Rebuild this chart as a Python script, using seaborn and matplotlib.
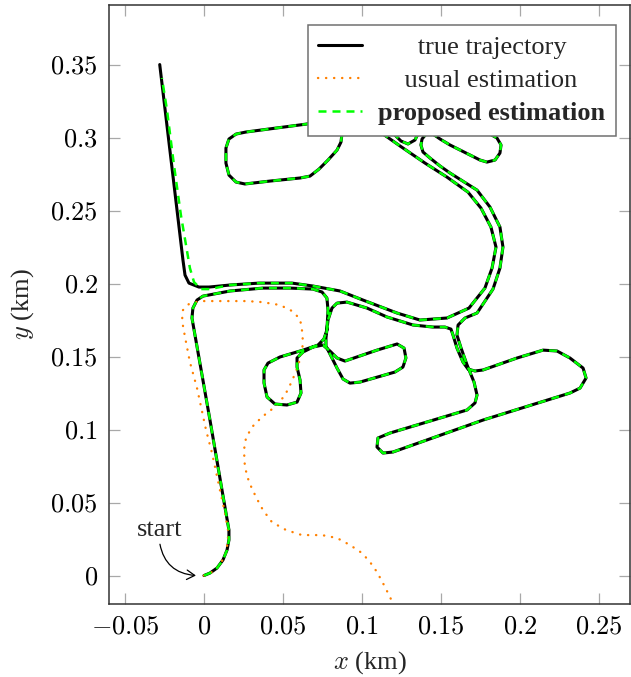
import matplotlib
matplotlib.use("Agg")
import matplotlib.pyplot as plt
import seaborn as sns
from matplotlib.lines import Line2D

# ---------------- data (km) ----------------
# true trajectory, piece by piece along the drive
start_leg_x = [0.0, 0.0038, 0.0082, 0.0120, 0.0146, 0.0158, 0.0158, 0.0114, 0.0038, -0.0076, -0.0070, -0.0044,
               -0.0006, 0.0165, 0.0373, 0.0544, 0.0690, 0.0747, 0.0778, 0.0785, 0.0778, 0.0759, 0.0722]
start_leg_y = [0.0, 0.0017, 0.0051, 0.0106, 0.0175, 0.0243, 0.0312, 0.0586, 0.1065, 0.1764, 0.1832, 0.1887,
               0.1914, 0.1949, 0.1969, 0.1969, 0.1962, 0.1942, 0.1901, 0.1818, 0.1682, 0.1620, 0.1579]
left_loop_x = [0.0627, 0.0481, 0.0405, 0.0380, 0.0380, 0.0399, 0.0449, 0.0525, 0.0589, 0.0614, 0.0608, 0.0589,
               0.0589, 0.0627, 0.0690, 0.0753]
left_loop_y = [0.1544, 0.1497, 0.1455, 0.1408, 0.1319, 0.1223, 0.1175, 0.1168, 0.1188, 0.1250, 0.1339, 0.1428,
               0.1490, 0.1531, 0.1565, 0.1579]
mid_loop_x = [0.0797, 0.0842, 0.0892, 0.1095, 0.1222, 0.1266, 0.1278, 0.1259, 0.1209, 0.0987, 0.0924, 0.0880,
              0.0842, 0.0804, 0.0772]
mid_loop_y = [0.1538, 0.1490, 0.1469, 0.1544, 0.1586, 0.1558, 0.1490, 0.1428, 0.1394, 0.1325, 0.1318, 0.1346,
              0.1421, 0.1503, 0.1572]
outer_bottom_x = [0.0772, 0.0785, 0.0810, 0.0842, 0.0905, 0.1032, 0.1158, 0.1323, 0.1449, 0.1525, 0.1563]
outer_bottom_y = [0.1627, 0.1750, 0.1832, 0.1866, 0.1873, 0.1832, 0.1771, 0.1716, 0.1702, 0.1702, 0.1688]
excursion_x = [0.1576, 0.1601, 0.1639, 0.1671, 0.1715, 0.1766, 0.1981, 0.2146, 0.2234, 0.2316, 0.2399, 0.2418,
               0.2380, 0.2316, 0.1766, 0.1196, 0.1133, 0.1095, 0.1101, 0.1177, 0.1665, 0.1715, 0.1728, 0.1709,
               0.1665, 0.1627, 0.1601, 0.1608, 0.1652, 0.1728]
excursion_y = [0.1647, 0.1558, 0.1462, 0.1414, 0.1401, 0.1408, 0.1490, 0.1544, 0.1538, 0.1490, 0.1421, 0.1353,
               0.1284, 0.1250, 0.1065, 0.0846, 0.0839, 0.0880, 0.0942, 0.0976, 0.1134, 0.1182, 0.1236, 0.1325,
               0.1442, 0.1558, 0.1647, 0.1716, 0.1764, 0.1798]
outer_right_x = [0.1829, 0.1873, 0.1892, 0.1873, 0.1810, 0.1728, 0.1557, 0.1494, 0.1430, 0.1386, 0.1373, 0.1380,
                 0.1405]
outer_right_y = [0.1962, 0.2106, 0.2250, 0.2387, 0.2524, 0.2640, 0.2757, 0.2805, 0.2860, 0.2901, 0.2949, 0.2990,
                 0.3024]
top_loops_x = [0.1443, 0.1684, 0.1785, 0.1810, 0.1854, 0.1880, 0.1873, 0.1842, 0.1791, 0.1747, 0.1684, 0.1620,
               0.1557, 0.1494, 0.1449, 0.1399, 0.1361, 0.1354, 0.1335, 0.1291, 0.1247, 0.1215, 0.1184, 0.0987,
               0.0892]
top_loops_y = [0.3120, 0.3154, 0.3065, 0.3024, 0.2997, 0.2949, 0.2894, 0.2846, 0.2832, 0.2846, 0.2880, 0.2914,
               0.2949, 0.2990, 0.3024, 0.3086, 0.3065, 0.3024, 0.2983, 0.2956, 0.2976, 0.3010, 0.3051, 0.3134,
               0.3086]
upper_left_loop_x = [0.0873, 0.0867, 0.0842, 0.0785, 0.0728, 0.0671, 0.0608, 0.0418, 0.0259, 0.0203, 0.0158,
                     0.0139, 0.0139, 0.0158, 0.0203, 0.0266, 0.0456, 0.0646, 0.0797, 0.1051, 0.1101]
upper_left_loop_y = [0.3024, 0.2969, 0.2914, 0.2846, 0.2784, 0.2736, 0.2723, 0.2702, 0.2682, 0.2695, 0.2743,
                     0.2825, 0.2928, 0.2990, 0.3024, 0.3038, 0.3065, 0.3092, 0.3120, 0.3106, 0.3065]
inner_x = [0.1133, 0.1241, 0.1399, 0.1538, 0.1671, 0.1753, 0.1816, 0.1848, 0.1823, 0.1778, 0.1677, 0.1538,
           0.1367, 0.1222, 0.1006, 0.0861, 0.0690, 0.0557, 0.0348, 0.0165, 0.0032, -0.0032]
inner_y = [0.3024, 0.2942, 0.2825, 0.2729, 0.2626, 0.2517, 0.2387, 0.2250, 0.2106, 0.1969, 0.1832, 0.1764,
           0.1750, 0.1798, 0.1887, 0.1949, 0.1983, 0.2003, 0.2003, 0.1990, 0.1976, 0.1976]
true_tail_x = [-0.0095, -0.0120, -0.0133, -0.0280]
true_tail_y = [0.2003, 0.2058, 0.2161, 0.3500]

# proposed estimation: follows the truth, differs on the last straight
proposed_tail_x = [0.0038, -0.0019, -0.0063, -0.0089, -0.0114, -0.0146, -0.0190, -0.0234, -0.0266]
proposed_tail_y = [0.1962, 0.1962, 0.2010, 0.2106, 0.2264, 0.2469, 0.2812, 0.3188, 0.3408]

# usual estimation (drifts away)
usual_x = [0.0, 0.0051, 0.0101, 0.0139, 0.0152, 0.0152, 0.0133, 0.0101, 0.0051, 0.0013, -0.0044, -0.0089,
           -0.0120, -0.0139, -0.0133, -0.0095, -0.0025, 0.0057, 0.0272, 0.0367, 0.0481, 0.0557, 0.0608, 0.0620,
           0.0627, 0.0614, 0.0595, 0.0557, 0.0513, 0.0456, 0.0367, 0.0304, 0.0266, 0.0253, 0.0259, 0.0285,
           0.0329, 0.0373, 0.0430, 0.0519, 0.0620, 0.0747, 0.0842, 0.0924, 0.1000, 0.1051, 0.1095, 0.1139,
           0.1177, 0.1209]
usual_y = [0.0, 0.0024, 0.0072, 0.0154, 0.0243, 0.0312, 0.0428, 0.0586, 0.0839, 0.0997, 0.1284, 0.1462,
           0.1634, 0.1747, 0.1818, 0.1860, 0.1880, 0.1880, 0.1880, 0.1873, 0.1853, 0.1812, 0.1757, 0.1682,
           0.1592, 0.1510, 0.1435, 0.1332, 0.1236, 0.1161, 0.1086, 0.1017, 0.0942, 0.0860, 0.0743, 0.0640,
           0.0538, 0.0449, 0.0366, 0.0312, 0.0277, 0.0277, 0.0257, 0.0209, 0.0154, 0.0092, 0.0024, -0.0065,
           -0.0147, -0.0223]

x_ticks = [-0.05, 0.0, 0.05, 0.1, 0.15, 0.2, 0.25]
x_tick_labels = ["$-0.05$", "$0$", "$0.05$", "$0.1$", "$0.15$", "$0.2$", "$0.25$"]
y_ticks = [0.0, 0.05, 0.1, 0.15, 0.2, 0.25, 0.3, 0.35]
y_tick_labels = ["$0$", "$0.05$", "$0.1$", "$0.15$", "$0.2$", "$0.25$", "$0.3$", "$0.35$"]
legend_labels = ["true trajectory", "usual estimation", "proposed estimation"]
legend_weights = ["normal", "normal", "bold"]

# ---------------- assemble paths ----------------
body_x = (start_leg_x + left_loop_x + mid_loop_x + outer_bottom_x + excursion_x + outer_right_x
          + top_loops_x + upper_left_loop_x)
body_y = (start_leg_y + left_loop_y + mid_loop_y + outer_bottom_y + excursion_y + outer_right_y
          + top_loops_y + upper_left_loop_y)
true_x = body_x + inner_x + true_tail_x
true_y = body_y + inner_y + true_tail_y
prop_x = body_x + inner_x[:-2] + proposed_tail_x
prop_y = body_y + inner_y[:-2] + proposed_tail_y

# ---------------- style ----------------
FS = 19
sns.set_theme(style="ticks")
plt.rcParams['font.family'] = ['Liberation Serif', 'DejaVu Serif']
plt.rcParams['mathtext.fontset'] = 'cm'

BLACK = "black"
ORANGE = "#ff8000"
GREEN = "#00ff00"
dot_style = (0, (0.1, 3.3))
dash_style = (0, (3.2, 2.4))

fig = plt.figure(figsize=(6.31, 6.77), dpi=100)
ax = fig.add_axes([109 / 631, 73 / 677, 521 / 631, 599 / 677])

sns.lineplot(x=true_x, y=true_y, sort=False, estimator=None, color=BLACK, linewidth=2.2, ax=ax)
sns.lineplot(x=usual_x, y=usual_y, sort=False, estimator=None, color=ORANGE, linewidth=1.7,
             linestyle=dot_style, dash_capstyle="round", ax=ax)
sns.lineplot(x=prop_x, y=prop_y, sort=False, estimator=None, color=GREEN, linewidth=1.8,
             linestyle=dash_style, ax=ax)

ax.set_xlim(-0.0601, 0.2696)
ax.set_ylim(-0.0195, 0.3908)
ax.set_xticks(x_ticks)
ax.set_xticklabels(x_tick_labels)
ax.set_yticks(y_ticks)
ax.set_yticklabels(y_tick_labels)
ax.tick_params(direction="in", length=8, width=0.9, color="#a8a8a8", top=True, right=True,
               labelsize=FS, labelcolor="black")
ax.tick_params(axis="x", pad=9)
ax.tick_params(axis="y", pad=8)
for s in ax.spines.values():
    s.set_color("#333333")
    s.set_linewidth(1.1)
    s.set_visible(True)

ax.set_xlabel("$x$ (km)", fontsize=FS, labelpad=8)
ax.set_ylabel("$y$ (km)", fontsize=FS, labelpad=10)

ax.annotate("start", xy=(-0.0051, 0.0), xytext=(-0.0282, 0.0271), fontsize=FS, ha="center",
            va="baseline",
            arrowprops=dict(arrowstyle="->,head_length=0.3,head_width=0.18", color="black", lw=0.9,
                            connectionstyle="arc3,rad=0.4", shrinkA=0, shrinkB=0, relpos=(0.5, 0.0)))

# legend with centred labels
fig.canvas.draw()
rend = fig.canvas.get_renderer()


def text_width(s, weight):
    t = fig.text(0, 0, s, fontsize=FS, fontweight=weight)
    w = t.get_window_extent(rend).width
    t.remove()
    return w


space_w = text_width("x x", "normal") - text_width("xx", "normal")
widths = [text_width(l, w) for l, w in zip(legend_labels, legend_weights)]
wmax = max(widths)
padded = [" " * int(round((wmax - w) / 2 / space_w)) + l for l, w in zip(legend_labels, widths)]

handles = [Line2D([], [], color=BLACK, linewidth=2.2),
           Line2D([], [], color=ORANGE, linewidth=1.7, linestyle=dot_style, dash_capstyle="round"),
           Line2D([], [], color=GREEN, linewidth=1.8, linestyle=dash_style)]
leg = ax.legend(handles, padded, loc="upper right", bbox_to_anchor=(0.9731, 0.9666), borderaxespad=0,
                fontsize=FS, frameon=True, fancybox=False, framealpha=1, edgecolor="#707070",
                facecolor="white", handlelength=1.65, handletextpad=0.62, borderpad=0.4, labelspacing=0.36)
leg.get_frame().set_linewidth(1.1)
for t, w in zip(leg.get_texts(), legend_weights):
    t.set_fontweight(w)

fig.savefig("out.png", dpi=100)
